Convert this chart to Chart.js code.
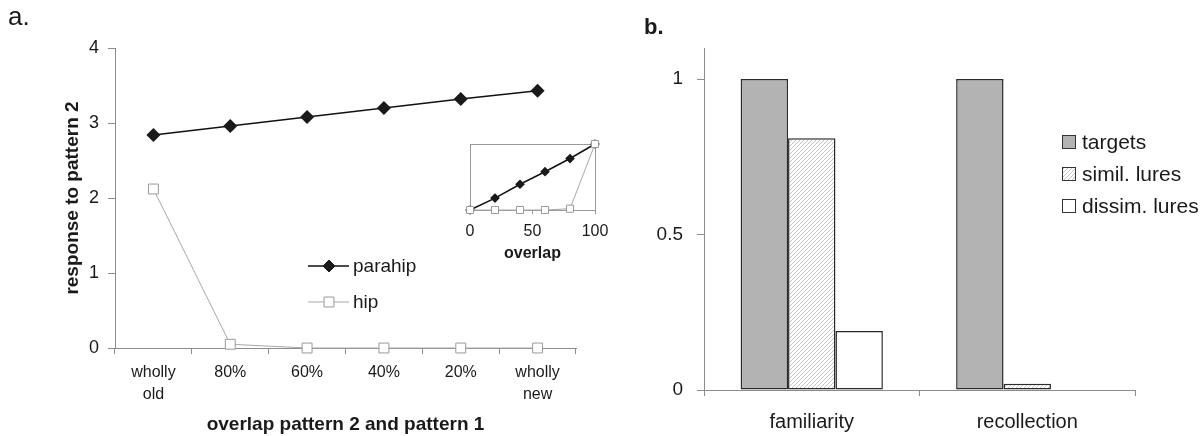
<!DOCTYPE html>
<html>
<head>
<meta charset="utf-8">
<title>overlap response / familiarity vs recollection</title>
<script src="https://cdn.jsdelivr.net/npm/chart.js@4.4.0/dist/chart.umd.min.js"></script>
<style>
    html, body { margin: 0; padding: 0; background: #fff; }
    #wrap { position: relative; width: 1203px; height: 436px; overflow: hidden;
            font-family: "Liberation Sans", Arial, sans-serif; color: #1a1a1a; }
    .box { position: absolute; }
    .lbl { position: absolute; white-space: nowrap; line-height: 1; }
</style>
</head>
<body>
<div id="wrap">
    <div class="box" style="left:0;top:0;"><canvas id="chartA" width="600" height="436"></canvas></div>
    <div class="box" style="left:430px;top:130px;"><canvas id="inset" width="190" height="135"></canvas></div>
    <div class="box" style="left:600px;top:0;"><canvas id="chartB" width="603" height="436"></canvas></div>
    <div class="lbl" style="left:8px;top:3px;font-size:26px;">a.</div>
    <div class="lbl" style="left:644px;top:16px;font-size:22px;font-weight:bold;">b.</div>
</div>
<script>
'use strict';

// --- data: panel a ---
const overlapLabels = [['wholly', 'old'], '80%', '60%', '40%', '20%', ['wholly', 'new']];
const parahipValues = [2.84, 2.96, 3.08, 3.20, 3.32, 3.43];
const hipValues = [2.12, 0.05, 0, 0, 0, 0];
const yTicksA = [0, 1, 2, 3, 4];

// --- data: inset ---
const insetOverlap = [0, 20, 40, 60, 80, 100];
const insetParahip = [0, 0.18, 0.39, 0.58, 0.78, 1];
const insetHip = [0, 0, 0, 0, 0.02, 1];
const insetTicks = [0, 50, 100];

// --- data: panel b ---
const memoryLabels = ['familiarity', 'recollection'];
const targetValues = [1, 1];
const similLureValues = [0.81, 0.02];
const dissimLureValues = [0.19, 0];
const yTicksB = [0, 0.5, 1];

Chart.defaults.font.family = '"Liberation Sans", Arial, sans-serif';
Chart.defaults.color = '#1a1a1a';
Chart.defaults.animation = false;
Chart.defaults.plugins.legend.display = false;
Chart.defaults.plugins.tooltip.enabled = false;

const AXIS = '#8c8c8c';
const INK = '#1a1a1a';

// hatch for "simil. lures"
function makeHatch() {
    const c = document.createElement('canvas');
    c.width = 4; c.height = 4;
    const g = c.getContext('2d');
    g.fillStyle = '#fff';
    g.fillRect(0, 0, 4, 4);
    g.strokeStyle = '#b4b4b4';
    g.lineWidth = 0.8;
    g.beginPath();
    g.moveTo(0, 4); g.lineTo(4, 0);
    g.moveTo(-1, 1); g.lineTo(1, -1);
    g.moveTo(3, 5); g.lineTo(5, 3);
    g.stroke();
    return g.createPattern(c, 'repeat');
}
const hatch = makeHatch();

function drawMarker(ctx, style, x, y, r, fill, stroke) {
    ctx.save();
    ctx.beginPath();
    if (style === 'rectRot') {
        ctx.moveTo(x, y - r); ctx.lineTo(x + r, y); ctx.lineTo(x, y + r); ctx.lineTo(x - r, y);
    } else {
        const h = r * Math.SQRT1_2;
        ctx.rect(x - h, y - h, 2 * h, 2 * h);
    }
    ctx.closePath();
    ctx.fillStyle = fill; ctx.fill();
    ctx.strokeStyle = stroke; ctx.lineWidth = 1; ctx.stroke();
    ctx.restore();
}

// legend of panel a, sits inside the plot
const legendA = {
    id: 'legendA',
    afterDraw(chart) {
        const ctx = chart.ctx;
        const rows = [266, 302];
        chart.data.datasets.forEach((ds, i) => {
            const y = rows[i];
            ctx.save();
            ctx.strokeStyle = ds.borderColor;
            ctx.lineWidth = ds.borderWidth;
            ctx.beginPath(); ctx.moveTo(308, y); ctx.lineTo(349, y); ctx.stroke();
            drawMarker(ctx, ds.pointStyle, 329, y, ds.pointRadius, ds.pointBackgroundColor, ds.pointBorderColor);
            ctx.fillStyle = INK;
            ctx.font = '19px "Liberation Sans", Arial, sans-serif';
            ctx.textBaseline = 'middle';
            ctx.fillText(ds.label, 353, y + 1);
            ctx.restore();
        });
    }
};

// legend of panel b
const legendB = {
    id: 'legendB',
    afterDraw(chart) {
        const ctx = chart.ctx;
        const rows = [142, 174, 206];
        chart.data.datasets.forEach((ds, i) => {
            const y = rows[i];
            ctx.save();
            ctx.fillStyle = ds.backgroundColor;
            ctx.fillRect(462.5, y - 6.5, 13, 13);
            ctx.strokeStyle = '#333';
            ctx.lineWidth = 1;
            ctx.strokeRect(462.5, y - 6.5, 13, 13);
            ctx.fillStyle = INK;
            ctx.font = '21px "Liberation Sans", Arial, sans-serif';
            ctx.textBaseline = 'middle';
            ctx.fillText(ds.label, 482, y + 1);
            ctx.restore();
        });
    }
};

const insetFrame = {
    id: 'insetFrame',
    beforeDatasetsDraw(chart) {
        const { left, top, right, bottom } = chart.chartArea;
        const ctx = chart.ctx;
        ctx.save();
        ctx.strokeStyle = '#999';
        ctx.lineWidth = 1;
        ctx.strokeRect(Math.round(left) + 0.5, Math.round(top) + 0.5, Math.round(right - left), Math.round(bottom - top));
        ctx.restore();
    }
};

const fixTicks = (list) => (scale) => { scale.ticks = list.map(v => ({ value: v })); };

// --- panel a ---
new Chart(document.getElementById('chartA'), {
    type: 'line',
    data: {
        labels: overlapLabels,
        datasets: [
            {
                label: 'parahip', data: parahipValues,
                borderColor: '#111', borderWidth: 1.5,
                pointStyle: 'rectRot', pointRadius: 6,
                pointBackgroundColor: '#1a1a1a', pointBorderColor: '#1a1a1a',
                tension: 0, clip: false
            },
            {
                label: 'hip', data: hipValues,
                borderColor: '#a8a8a8', borderWidth: 1,
                pointStyle: 'rect', pointRadius: 7,
                pointBackgroundColor: '#fff', pointBorderColor: '#999',
                tension: 0, clip: false
            }
        ]
    },
    options: {
        responsive: false,
        layout: { padding: { top: 48, right: 24, left: 0, bottom: 0 } },
        scales: {
            x: {
                offset: true,
                grid: { offset: true, drawOnChartArea: false, tickLength: 6, color: AXIS },
                border: { color: AXIS },
                ticks: { font: { size: 16, lineHeight: 1.375 }, padding: 8, maxRotation: 0, color: INK },
                title: { display: true, text: 'overlap pattern 2 and pattern 1',
                         font: { size: 19, weight: 'bold' }, padding: { top: 0, bottom: 0 }, color: INK },
                afterFit: (s) => { s.height = 88; }
            },
            y: {
                min: 0, max: 4,
                afterBuildTicks: fixTicks(yTicksA),
                grid: { drawOnChartArea: false, tickLength: 7, color: AXIS },
                border: { color: AXIS },
                ticks: { font: { size: 18 }, padding: 9, color: INK, callback: (v) => String(v) },
                title: { display: true, text: 'response to pattern 2',
                         font: { size: 19, weight: 'bold' }, padding: { top: 61, bottom: 0 }, color: INK },
                afterFit: (s) => { s.width = 115; }
            }
        }
    },
    plugins: [legendA]
});

// --- inset (overlap 0..100) ---
new Chart(document.getElementById('inset'), {
    type: 'line',
    data: {
        datasets: [
            {
                label: 'hip', data: insetOverlap.map((x, i) => ({ x, y: insetHip[i] })),
                borderColor: '#a8a8a8', borderWidth: 1,
                pointStyle: 'rect', pointRadius: 5,
                pointBackgroundColor: '#fff', pointBorderColor: '#999', clip: false
            },
            {
                label: 'parahip', data: insetOverlap.map((x, i) => ({ x, y: insetParahip[i] })),
                borderColor: '#111', borderWidth: 1.5,
                pointStyle: 'rectRot', pointRadius: 3.8,
                pointBackgroundColor: '#1a1a1a', pointBorderColor: '#1a1a1a', clip: false
            }
        ]
    },
    options: {
        responsive: false,
        layout: { padding: { top: 14, right: 25, left: 0, bottom: 0 } },
        scales: {
            x: {
                type: 'linear', min: 0, max: 100,
                afterBuildTicks: fixTicks(insetTicks),
                grid: { drawOnChartArea: false, tickLength: 4, color: '#999' },
                border: { color: '#999' },
                ticks: { font: { size: 16 }, padding: 8, color: INK, maxRotation: 0 },
                title: { display: true, text: 'overlap', font: { size: 16, weight: 'bold' },
                         padding: { top: 0, bottom: 2 }, color: INK },
                afterFit: (s) => { s.height = 55; }
            },
            y: {
                min: 0, max: 1,
                ticks: { display: false },
                grid: { display: false },
                border: { display: false },
                afterFit: (s) => { s.width = 40; }
            }
        }
    },
    plugins: [insetFrame]
});

// --- panel b ---
new Chart(document.getElementById('chartB'), {
    type: 'bar',
    data: {
        labels: memoryLabels,
        datasets: [
            { label: 'targets', data: targetValues, backgroundColor: '#b3b3b3' },
            { label: 'simil. lures', data: similLureValues, backgroundColor: hatch },
            { label: 'dissim. lures', data: dissimLureValues, backgroundColor: '#fff' }
        ]
    },
    options: {
        responsive: false,
        layout: { padding: { top: 48, right: 68, left: 0, bottom: 0 } },
        datasets: {
            bar: { categoryPercentage: 0.66, barPercentage: 1, borderColor: '#2a2a2a', borderWidth: 1.5, borderSkipped: false }
        },
        scales: {
            x: {
                grid: { drawOnChartArea: false, tickLength: 6, color: AXIS },
                border: { color: AXIS },
                ticks: { font: { size: 20 }, padding: 14, color: INK },
                afterFit: (s) => { s.height = 46; }
            },
            y: {
                min: 0, max: 1.1,
                afterBuildTicks: fixTicks(yTicksB),
                grid: { drawOnChartArea: false, tickLength: 7, color: AXIS },
                border: { color: AXIS },
                ticks: { font: { size: 19 }, padding: 14, color: INK, callback: (v) => String(v) },
                afterFit: (s) => { s.width = 104; }
            }
        }
    },
    plugins: [legendB]
});
</script>
</body>
</html>
